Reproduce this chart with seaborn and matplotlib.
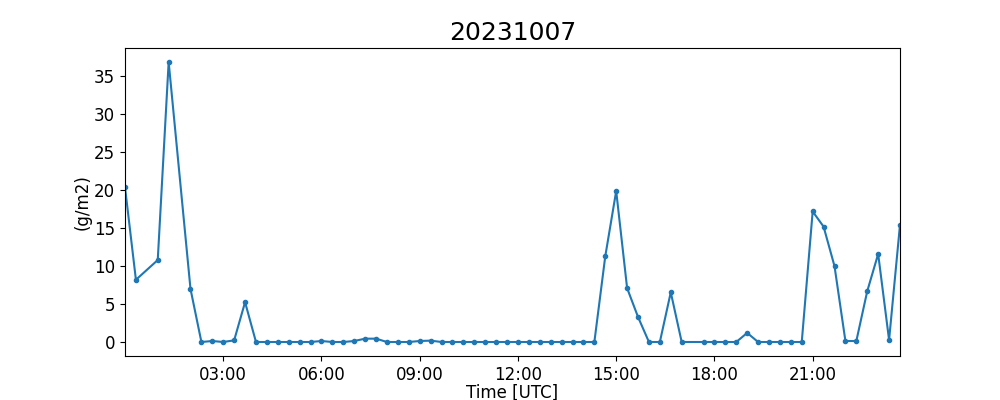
import matplotlib
matplotlib.use("Agg")
import matplotlib.pyplot as plt
import matplotlib.dates as mdates
import pandas as pd
import seaborn as sns

day = "2023-10-07"

# observation times (UTC), 20 min cadence with a few gaps
times = ["00:00", "00:20", "01:00", "01:20", "02:00", "02:20", "02:40", "03:00",
         "03:20", "03:40", "04:00", "04:20", "04:40", "05:00", "05:20", "05:40",
         "06:00", "06:20", "06:40", "07:00", "07:20", "07:40", "08:00", "08:20",
         "08:40", "09:00", "09:20", "09:40", "10:00", "10:20", "10:40", "11:00",
         "11:20", "11:40", "12:00", "12:20", "12:40", "13:00", "13:20", "13:40",
         "14:00", "14:20", "14:40", "15:00", "15:20", "15:40", "16:00", "16:20",
         "16:40", "17:00", "17:40", "18:00", "18:20", "18:40", "19:00", "19:20",
         "19:40", "20:00", "20:20", "20:40", "21:00", "21:20", "21:40", "22:00",
         "22:20", "22:40", "23:00", "23:20", "23:40"]

# values in g/m2
values = [20.4, 8.2, 10.8, 36.9, 7.0, 0.0, 0.13, 0.0,
          0.22, 5.25, 0.0, 0.0, 0.0, 0.0, 0.0, 0.0,
          0.13, 0.0, 0.0, 0.13, 0.44, 0.44, 0.0, 0.0,
          0.0, 0.13, 0.18, 0.0, 0.0, 0.0, 0.0, 0.0,
          0.0, 0.0, 0.0, 0.0, 0.0, 0.0, 0.0, 0.0,
          0.0, 0.0, 11.3, 19.9, 7.1, 3.3, 0.0, 0.0,
          6.55, 0.0, 0.0, 0.0, 0.0, 0.0, 1.2, 0.0,
          0.0, 0.0, 0.0, 0.0, 17.2, 15.2, 10.0, 0.13,
          0.13, 6.7, 11.6, 0.26, 15.45]

df = pd.DataFrame({"time": pd.to_datetime([f"{day} {t}" for t in times]),
                   "value": values})

fig, ax = plt.subplots(figsize=(10, 4), dpi=100)
sns.lineplot(data=df, x="time", y="value", ax=ax, color="#1f77b4",
             marker=".", markersize=6, markeredgecolor="#1f77b4",
             markeredgewidth=1, linewidth=1.5)

ax.set_xlim(df.time.min(), df.time.max())
ax.xaxis.set_major_locator(mdates.HourLocator(byhour=[3, 6, 9, 12, 15, 18, 21]))
ax.xaxis.set_major_formatter(mdates.DateFormatter("%H:%M"))
ax.tick_params(labelsize=12)
ax.set_xlabel("Time [UTC]", fontsize=12, labelpad=0)
ax.set_ylabel("(g/m2)", fontsize=12, labelpad=2)
ax.set_title("20231007", fontsize=18)

plt.savefig("out.png", dpi=100)
